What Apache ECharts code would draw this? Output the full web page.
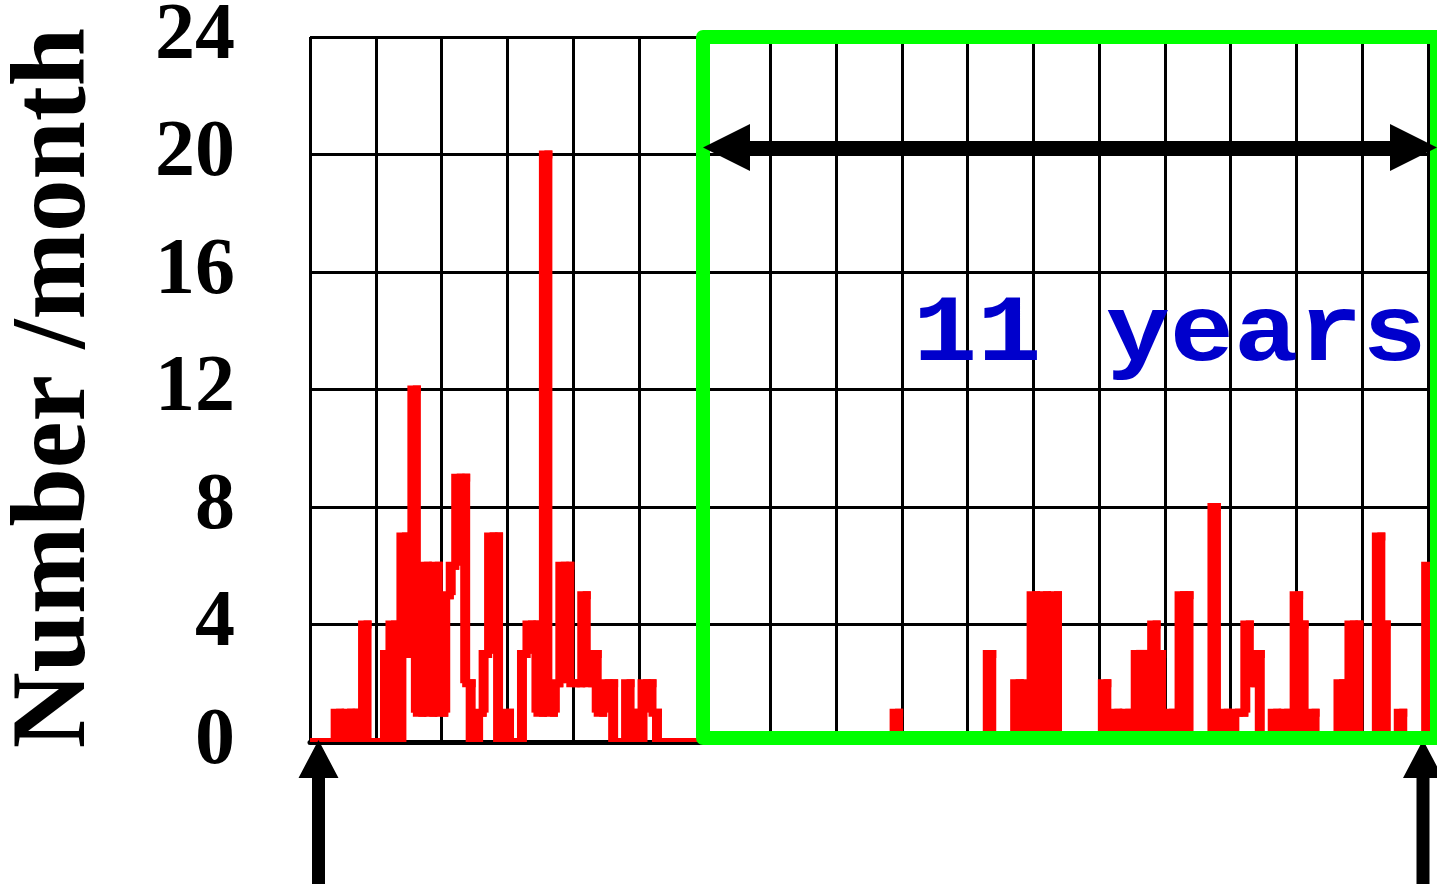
<!DOCTYPE html>
<html>
<head>
<meta charset="utf-8">
<title>Number per month</title>
<script src="https://cdn.jsdelivr.net/npm/echarts@6/dist/echarts.min.js"></script>
<style>
  html, body { margin: 0; padding: 0; background: #ffffff; }
  #chart { width: 1437px; height: 884px; }
</style>
</head>
<body>
<div id="chart"></div>
<script>
// Monthly counts for the six years before the highlighted window
const countsBefore = [
  0, 0, 0, 0, 1, 0, 1, 1, 0, 4, 0, 0,
  0, 3, 4, 0, 7, 3, 12, 1, 6, 1, 6, 1,
  5, 6, 9, 9, 2, 0, 1, 3, 7, 7, 0, 1,
  0, 0, 3, 4, 4, 1, 20, 1, 2, 6, 6, 2,
  2, 5, 2, 3, 1, 2, 2, 0, 0, 2, 1, 0,
  2, 2, 1, 0, 0, 0, 0, 0, 0, 0, 0, 0
];

// Monthly counts across the eleven-year window
const countsCycle = [
  0, 0, 0, 0, 0, 0, 0, 0, 0, 0, 0, 0,
  0, 0, 0, 0, 0, 0, 0, 0, 0, 0, 0, 0,
  0, 0, 0, 0, 0, 0, 0, 0, 0, 0, 1, 0,
  0, 0, 0, 0, 0, 0, 0, 0, 0, 0, 0, 0,
  0, 0, 0, 3, 0, 0, 0, 0, 2, 0, 2, 5,
  0, 5, 0, 5, 0, 0, 0, 0, 0, 0, 0, 0,
  2, 0, 1, 0, 1, 0, 3, 3, 0, 4, 3, 0,
  1, 0, 5, 5, 0, 0, 0, 0, 8, 0, 1, 0,
  1, 1, 4, 2, 3, 0, 0, 1, 0, 1, 0, 5,
  4, 0, 1, 0, 0, 0, 0, 2, 0, 4, 4, 0,
  0, 0, 7, 4, 0, 0, 1, 0, 0, 0, 0, 6
];

const yTicks = [0, 4, 8, 12, 16, 20, 24];
const yAxisTitle = 'Number /month';
const windowLabel = '11 years';

const counts = countsBefore.concat(countsCycle);
// each month is placed at its centre; the step runs to the next centre
const points = counts.map((v, m) => [m + 0.5, v]);

const RED = '#ff0000';
const GREEN = '#00ff00';
const BLUE = '#0000cc';
const BLACK = '#000000';

const chart = echarts.init(document.getElementById('chart'), null, { renderer: 'canvas' });

// one step of the stair line: rise/fall at the month's point, then run to the next point;
// the step is shaded down to the lowest of its neighbours
function renderStep(params, api) {
  const i = params.dataIndex;
  const xm = api.value(0);
  const v = api.value(1);
  const prev = i > 0 ? counts[i - 1] : v;
  const next = i < counts.length - 1 ? counts[i + 1] : v;
  const low = Math.min(prev, v, next);
  const a = api.coord([xm, prev]);
  const b = api.coord([xm, v]);
  const c = api.coord([xm + 1, v]);
  const base = api.coord([xm, low]);
  return {
    type: 'group',
    children: [
      {
        type: 'rect',
        // half a pixel of overlap on each side so neighbouring shades join without a seam
        shape: { x: b[0] - 0.5, y: b[1], width: c[0] - b[0] + 1, height: base[1] - b[1] },
        style: { fill: RED }
      },
      {
        type: 'polyline',
        shape: { points: [a, b, c] },
        style: { stroke: RED, lineWidth: 8, fill: null, lineCap: 'square', lineJoin: 'miter' }
      }
    ]
  };
}

const option = {
  animation: false,
  backgroundColor: '#ffffff',
  grid: {
    left: 310, top: 37, width: 1127, height: 705,
    containLabel: false, outerBoundsMode: 'none'
  },
  xAxis: {
    type: 'value',
    min: 0,
    max: 205.66,
    interval: 12,
    axisLine: { show: true, onZero: false, lineStyle: { color: BLACK, width: 5 } },
    axisTick: { show: false },
    axisLabel: { show: false },
    splitLine: { show: true, lineStyle: { color: BLACK, width: 3, type: 'solid' } }
  },
  yAxis: {
    type: 'value',
    min: yTicks[0],
    max: yTicks[yTicks.length - 1],
    interval: 4,
    axisLine: { show: false },
    axisTick: { show: false },
    axisLabel: {
      show: true,
      margin: 75,
      padding: [16, 0, 0, 0],
      color: BLACK,
      fontFamily: '"Liberation Serif", "Times New Roman", serif',
      fontWeight: 'bold',
      fontSize: 80,
      formatter: v => (yTicks.indexOf(v) >= 0 ? String(v) : '')
    },
    splitLine: { show: true, lineStyle: { color: BLACK, width: 3, type: 'solid' } }
  },
  series: [{
    type: 'custom',
    coordinateSystem: 'cartesian2d',
    clip: true,
    z: 2,
    data: points,
    renderItem: renderStep
  }],
  graphic: [
    {
      type: 'text', x: 57, y: 388, rotation: Math.PI / 2, z: 20,
      style: {
        text: yAxisTitle,
        font: 'bold 105px "Liberation Serif", "Times New Roman", serif',
        fill: BLACK,
        textAlign: 'center', textVerticalAlign: 'middle',
        align: 'center', verticalAlign: 'middle'
      }
    },
    {
      type: 'polygon', z: 5,
      shape: { points: [[318.5, 740], [338.5, 778], [325, 778], [325, 884], [312, 884], [312, 778], [298.5, 778]] },
      style: { fill: BLACK }
    },
    {
      type: 'polygon', z: 5,
      shape: { points: [[1423, 740], [1443, 778], [1429.5, 778], [1429.5, 884], [1416.5, 884], [1416.5, 778], [1403, 778]] },
      style: { fill: BLACK }
    },
    {
      type: 'rect', z: 10,
      shape: { x: 703, y: 37, width: 734, height: 701 },
      style: { fill: 'transparent', stroke: GREEN, lineWidth: 14, lineJoin: 'round' }
    },
    {
      type: 'polygon', z: 12,
      shape: {
        points: [[703, 147.5], [750, 124], [750, 141], [1390, 141], [1390, 124], [1437, 147.5],
                 [1390, 171], [1390, 154], [750, 154], [750, 171]]
      },
      style: { fill: BLACK }
    },
    {
      type: 'text', x: 913, y: 336, scaleY: 0.88, z: 12,
      style: {
        text: windowLabel,
        font: 'bold 107px "Liberation Mono", "Courier New", monospace',
        fill: BLUE,
        textAlign: 'left', textVerticalAlign: 'middle',
        align: 'left', verticalAlign: 'middle'
      }
    }
  ]
};

chart.setOption(option);
</script>
</body>
</html>
